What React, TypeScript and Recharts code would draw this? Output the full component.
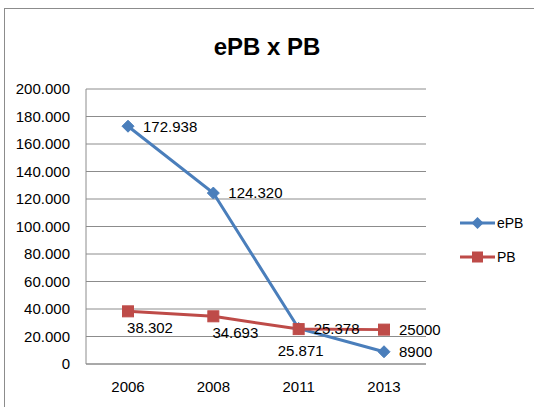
import React from 'react';
import { LineChart, Line, XAxis, YAxis, CartesianGrid } from 'recharts';

const years = ['2006', '2008', '2011', '2013'];
const ePB = [172938, 124320, 25871, 8900];
const PB = [38302, 34693, 25378, 25000];
const ePBLabels = ['172.938', '124.320', '25.871', '8900'];
const PBLabels = ['38.302', '34.693', '25.378', '25000'];
const yTicks = [0, 20000, 40000, 60000, 80000, 100000, 120000, 140000, 160000, 180000, 200000];

const data = years.map((y, i) => ({ year: y, ePB: ePB[i], PB: PB[i] }));

const BLUE = '#4A7EBB';
const RED = '#BE4B48';
const FONT = '"Liberation Sans", Arial, sans-serif';

const ePBPlace = ['right', 'right', 'below', 'right'];
const PBPlace = ['belowRight', 'belowRight', 'right', 'right'];

const fmtY = (v: number) => (v === 0 ? '0' : (v / 1000).toFixed(3));

const makeLabel = (texts: string[], places: string[]) => (props: any) => {
  const { x, y, index } = props;
  const place = places[index];
  let tx = x + 15;
  let ty = y;
  let anchor: 'start' | 'middle' = 'start';
  if (place === 'below') {
    tx = x + 2;
    ty = y + 22;
    anchor = 'middle';
  } else if (place === 'belowRight') {
    tx = x + 22;
    ty = y + 16;
    anchor = 'middle';
  }
  return (
    <text x={tx} y={ty} dy="0.355em" textAnchor={anchor} fontSize={15} fill="#000" fontFamily={FONT}>
      {texts[index]}
    </text>
  );
};

const Diamond = (props: any) => {
  const { cx, cy } = props;
  if (cx == null || cy == null) return null;
  const r = 6;
  return <polygon points={`${cx},${cy - r} ${cx + r},${cy} ${cx},${cy + r} ${cx - r},${cy}`} fill={BLUE} stroke={BLUE} />;
};

const Square = (props: any) => {
  const { cx, cy } = props;
  if (cx == null || cy == null) return null;
  const s = 11;
  return <rect x={cx - s / 2} y={cy - s / 2} width={s} height={s} fill={RED} stroke={RED} />;
};

const LegendBox = () => (
  <svg width={76} height={60} style={{ position: 'absolute', left: 458, top: 213 }}>
    <line x1={2} y1={10} x2={37} y2={10} stroke={BLUE} strokeWidth={3} />
    <polygon points="19.5,4 25.5,10 19.5,16 13.5,10" fill={BLUE} />
    <text x={39} y={10} dy="0.355em" fontSize={14} fontFamily={FONT} fill="#000">ePB</text>
    <line x1={2} y1={44} x2={37} y2={44} stroke={RED} strokeWidth={3} />
    <rect x={14} y={38.5} width={11} height={11} fill={RED} />
    <text x={39} y={44} dy="0.355em" fontSize={14} fontFamily={FONT} fill="#000">PB</text>
  </svg>
);

export default function App() {
  return (
    <div style={{ position: 'absolute', left: 0, top: 0, width: 534, height: 407, overflow: 'hidden', background: '#fff' }}>
      <div style={{ position: 'absolute', left: 4, top: 8, width: 600, height: 500, border: '1px solid #8c8c8c', boxSizing: 'border-box' }} />
      <div style={{ position: 'absolute', left: 0, top: 32, width: 534, textAlign: 'center', fontFamily: FONT, fontWeight: 'bold', fontSize: 24, lineHeight: '30px', color: '#000' }}>
        ePB x PB
      </div>
      <div style={{ position: 'absolute', left: 0, top: 0 }}>
        <LineChart width={534} height={407} data={data} margin={{ top: 89, right: 108, bottom: 13, left: 0 }}>
          <CartesianGrid vertical={false} stroke="#8c8c8c" strokeWidth={1} />
          <XAxis
            dataKey="year"
            height={30}
            padding={{ left: 42, right: 42 }}
            tickLine={false}
            tickMargin={11}
            axisLine={{ stroke: '#8c8c8c' }}
            tick={{ fontSize: 15, fill: '#000', fontFamily: FONT }}
          />
          <YAxis
            width={86}
            domain={[0, 200000]}
            ticks={yTicks}
            interval={0}
            tickFormatter={fmtY}
            tickLine={false}
            tickMargin={10}
            axisLine={{ stroke: '#8c8c8c' }}
            tick={{ fontSize: 15, fill: '#000', fontFamily: FONT }}
          />
          <Line
            type="linear"
            dataKey="ePB"
            stroke={BLUE}
            strokeWidth={3}
            dot={<Diamond />}
            activeDot={false}
            isAnimationActive={false}
            label={makeLabel(ePBLabels, ePBPlace)}
          />
          <Line
            type="linear"
            dataKey="PB"
            stroke={RED}
            strokeWidth={3}
            dot={<Square />}
            activeDot={false}
            isAnimationActive={false}
            label={makeLabel(PBLabels, PBPlace)}
          />
        </LineChart>
      </div>
      <LegendBox />
    </div>
  );
}
